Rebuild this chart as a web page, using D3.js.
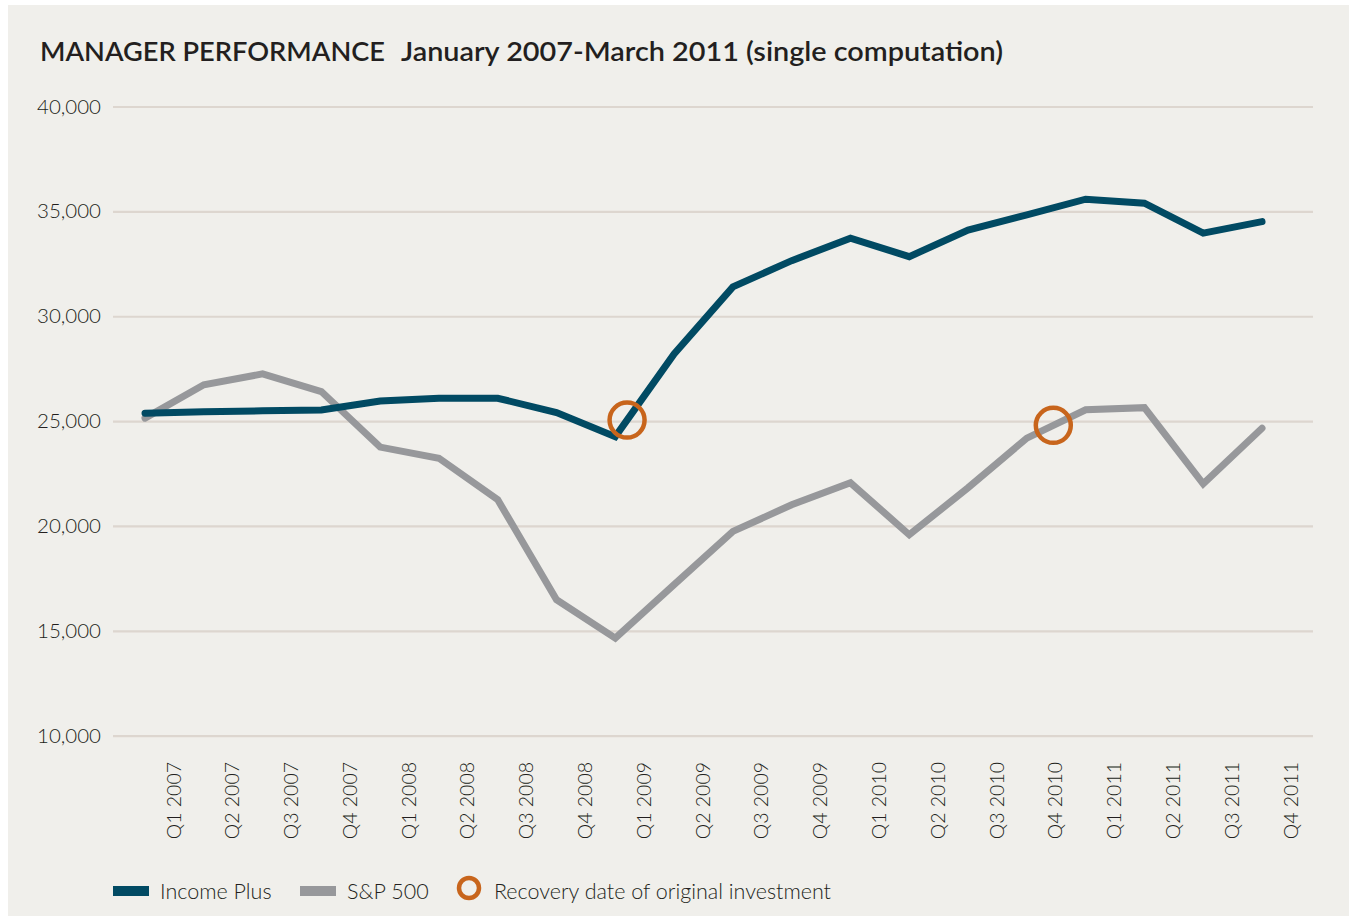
<!DOCTYPE html>
<html>
<head>
<meta charset="utf-8">
<script src="https://cdn.jsdelivr.net/npm/d3@7"></script>
<style>
  html, body { margin: 0; padding: 0; background: #ffffff; }
  svg { display: block; }
  text { font-family: Lato, "Open Sans", sans-serif; }
</style>
</head>
<body>
<div id="chart"></div>
<script>
const TITLE_MAIN = "MANAGER PERFORMANCE";
const TITLE_SUB = "January 2007-March 2011 (single computation)";

const quarters = [
  "Q1 2007", "Q2 2007", "Q3 2007", "Q4 2007",
  "Q1 2008", "Q2 2008", "Q3 2008", "Q4 2008",
  "Q1 2009", "Q2 2009", "Q3 2009", "Q4 2009",
  "Q1 2010", "Q2 2010", "Q3 2010", "Q4 2010",
  "Q1 2011", "Q2 2011", "Q3 2011", "Q4 2011"
];

const incomePlus = [
  25380, 25450, 25490, 25530, 25960, 26090, 26090, 25410, 24260, 28200,
  31400, 32650, 33720, 32840, 34110, 34830, 35580, 35390, 33960, 34510
];

const sp500 = [
  25140, 26730, 27250, 26410, 23760, 23230, 21250, 16480, 14650, 17200,
  19740, 21010, 22060, 19580, 21820, 24190, 25540, 25640, 22010, 24660
];

const yTicks = [10000, 15000, 20000, 25000, 30000, 35000, 40000];

// where each series got back to the original investment (position in quarter steps)
const recoveryAt = [
  { name: "Income Plus", step: 8.2 },
  { name: "S&P 500", step: 15.45 }
];

const SERIES = [
  { name: "Income Plus", values: incomePlus, color: "#014a63" },
  { name: "S&P 500", values: sp500, color: "#97989b" }
];
const RECOVERY_COLOR = "#c8651c";
const TEXT_COLOR = "#231f20";

const width = 1349;
const height = 916;

const svg = d3.select("#chart").append("svg")
  .attr("width", width)
  .attr("height", height);

svg.append("rect")
  .attr("x", 8).attr("y", 5)
  .attr("width", width - 8).attr("height", height - 5)
  .attr("fill", "#f0efeb");

// title in two pieces, stretched to the widths in the original
[
  { text: TITLE_MAIN, x: 40, w: 345 },
  { text: TITLE_SUB, x: 401, w: 602 }
].forEach((t) => {
  svg.append("text")
    .attr("x", t.x).attr("y", 61)
    .attr("fill", TEXT_COLOR)
    .attr("textLength", t.w)
    .attr("lengthAdjust", "spacingAndGlyphs")
    .style("font-size", "27px")
    .style("font-weight", 600)
    .text(t.text);
});

const x = d3.scaleLinear().domain([0, quarters.length - 1]).range([145, 1262]);
const y = d3.scaleLinear().domain([10000, 40000]).range([735.7, 106.5]);

// gridlines + y labels
const yAxis = svg.append("g")
  .attr("transform", "translate(113,0)")
  .call(d3.axisLeft(y)
    .tickValues(yTicks)
    .tickFormat(d3.format(","))
    .tickSize(-1200)
    .tickPadding(12));
yAxis.select(".domain").remove();
yAxis.selectAll(".tick line")
  .attr("stroke", "#ddd6cf")
  .attr("stroke-width", 2.2);
yAxis.selectAll(".tick text")
  .attr("fill", TEXT_COLOR)
  .style("font-size", "20.5px")
  .style("font-weight", 300)
  .style("font-family", "Lato, sans-serif");

// quarter labels, sitting a little right of each data point
const xLabel = d3.scalePoint()
  .domain(quarters)
  .range([x(0.48), x(quarters.length - 1 + 0.48)]);
const xAxis = svg.append("g")
  .attr("transform", "translate(0,762)")
  .call(d3.axisBottom(xLabel).tickSize(0).tickPadding(0));
xAxis.select(".domain").remove();
xAxis.selectAll(".tick text")
  .attr("fill", TEXT_COLOR)
  .attr("transform", "rotate(-90)")
  .attr("x", 0)
  .attr("y", 0)
  .attr("dy", "0.35em")
  .attr("text-anchor", "end")
  .style("font-size", "19.5px")
  .style("font-weight", 300)
  .style("font-family", "Lato, sans-serif");

const line = d3.line()
  .x((d, i) => x(i))
  .y((d) => y(d));

// S&P first so Income Plus is drawn on top
[SERIES[1], SERIES[0]].forEach((s) => {
  svg.append("path")
    .datum(s.values)
    .attr("fill", "none")
    .attr("stroke", s.color)
    .attr("stroke-width", 7)
    .attr("stroke-linecap", "round")
    .attr("stroke-linejoin", "miter")
    .attr("d", line);
});

const valueAt = (values, step) => {
  const i = Math.floor(step);
  const t = step - i;
  return values[i] + (values[i + 1] - values[i]) * t;
};

svg.selectAll(".recovery")
  .data(recoveryAt)
  .enter()
  .append("circle")
  .attr("class", "recovery")
  .attr("cx", (d) => x(d.step))
  .attr("cy", (d) => y(valueAt(SERIES.find((s) => s.name === d.name).values, d.step)))
  .attr("r", 17.5)
  .attr("fill", "none")
  .attr("stroke", RECOVERY_COLOR)
  .attr("stroke-width", 4.5);

// legend
const legend = svg.append("g").attr("transform", "translate(113,891)");
const legendItems = [
  { label: "Income Plus", kind: "line", color: SERIES[0].color, x: 0 },
  { label: "S&P 500", kind: "line", color: SERIES[1].color, x: 187 },
  { label: "Recovery date of original investment", kind: "circle", color: RECOVERY_COLOR, x: 344 }
];
const li = legend.selectAll("g")
  .data(legendItems)
  .enter()
  .append("g")
  .attr("transform", (d) => `translate(${d.x},0)`);

li.filter((d) => d.kind === "line")
  .append("rect")
  .attr("x", 0).attr("y", -5)
  .attr("width", 36).attr("height", 10)
  .attr("fill", (d) => d.color);

li.filter((d) => d.kind === "circle")
  .append("circle")
  .attr("cx", 12).attr("cy", -3)
  .attr("r", 10)
  .attr("fill", "none")
  .attr("stroke", (d) => d.color)
  .attr("stroke-width", 4.5);

li.append("text")
  .attr("x", (d) => (d.kind === "line" ? 47 : 37))
  .attr("y", 0)
  .attr("dy", "0.35em")
  .attr("fill", TEXT_COLOR)
  .style("font-size", "21.5px")
  .style("font-weight", 300)
  .text((d) => d.label);
</script>
</body>
</html>
